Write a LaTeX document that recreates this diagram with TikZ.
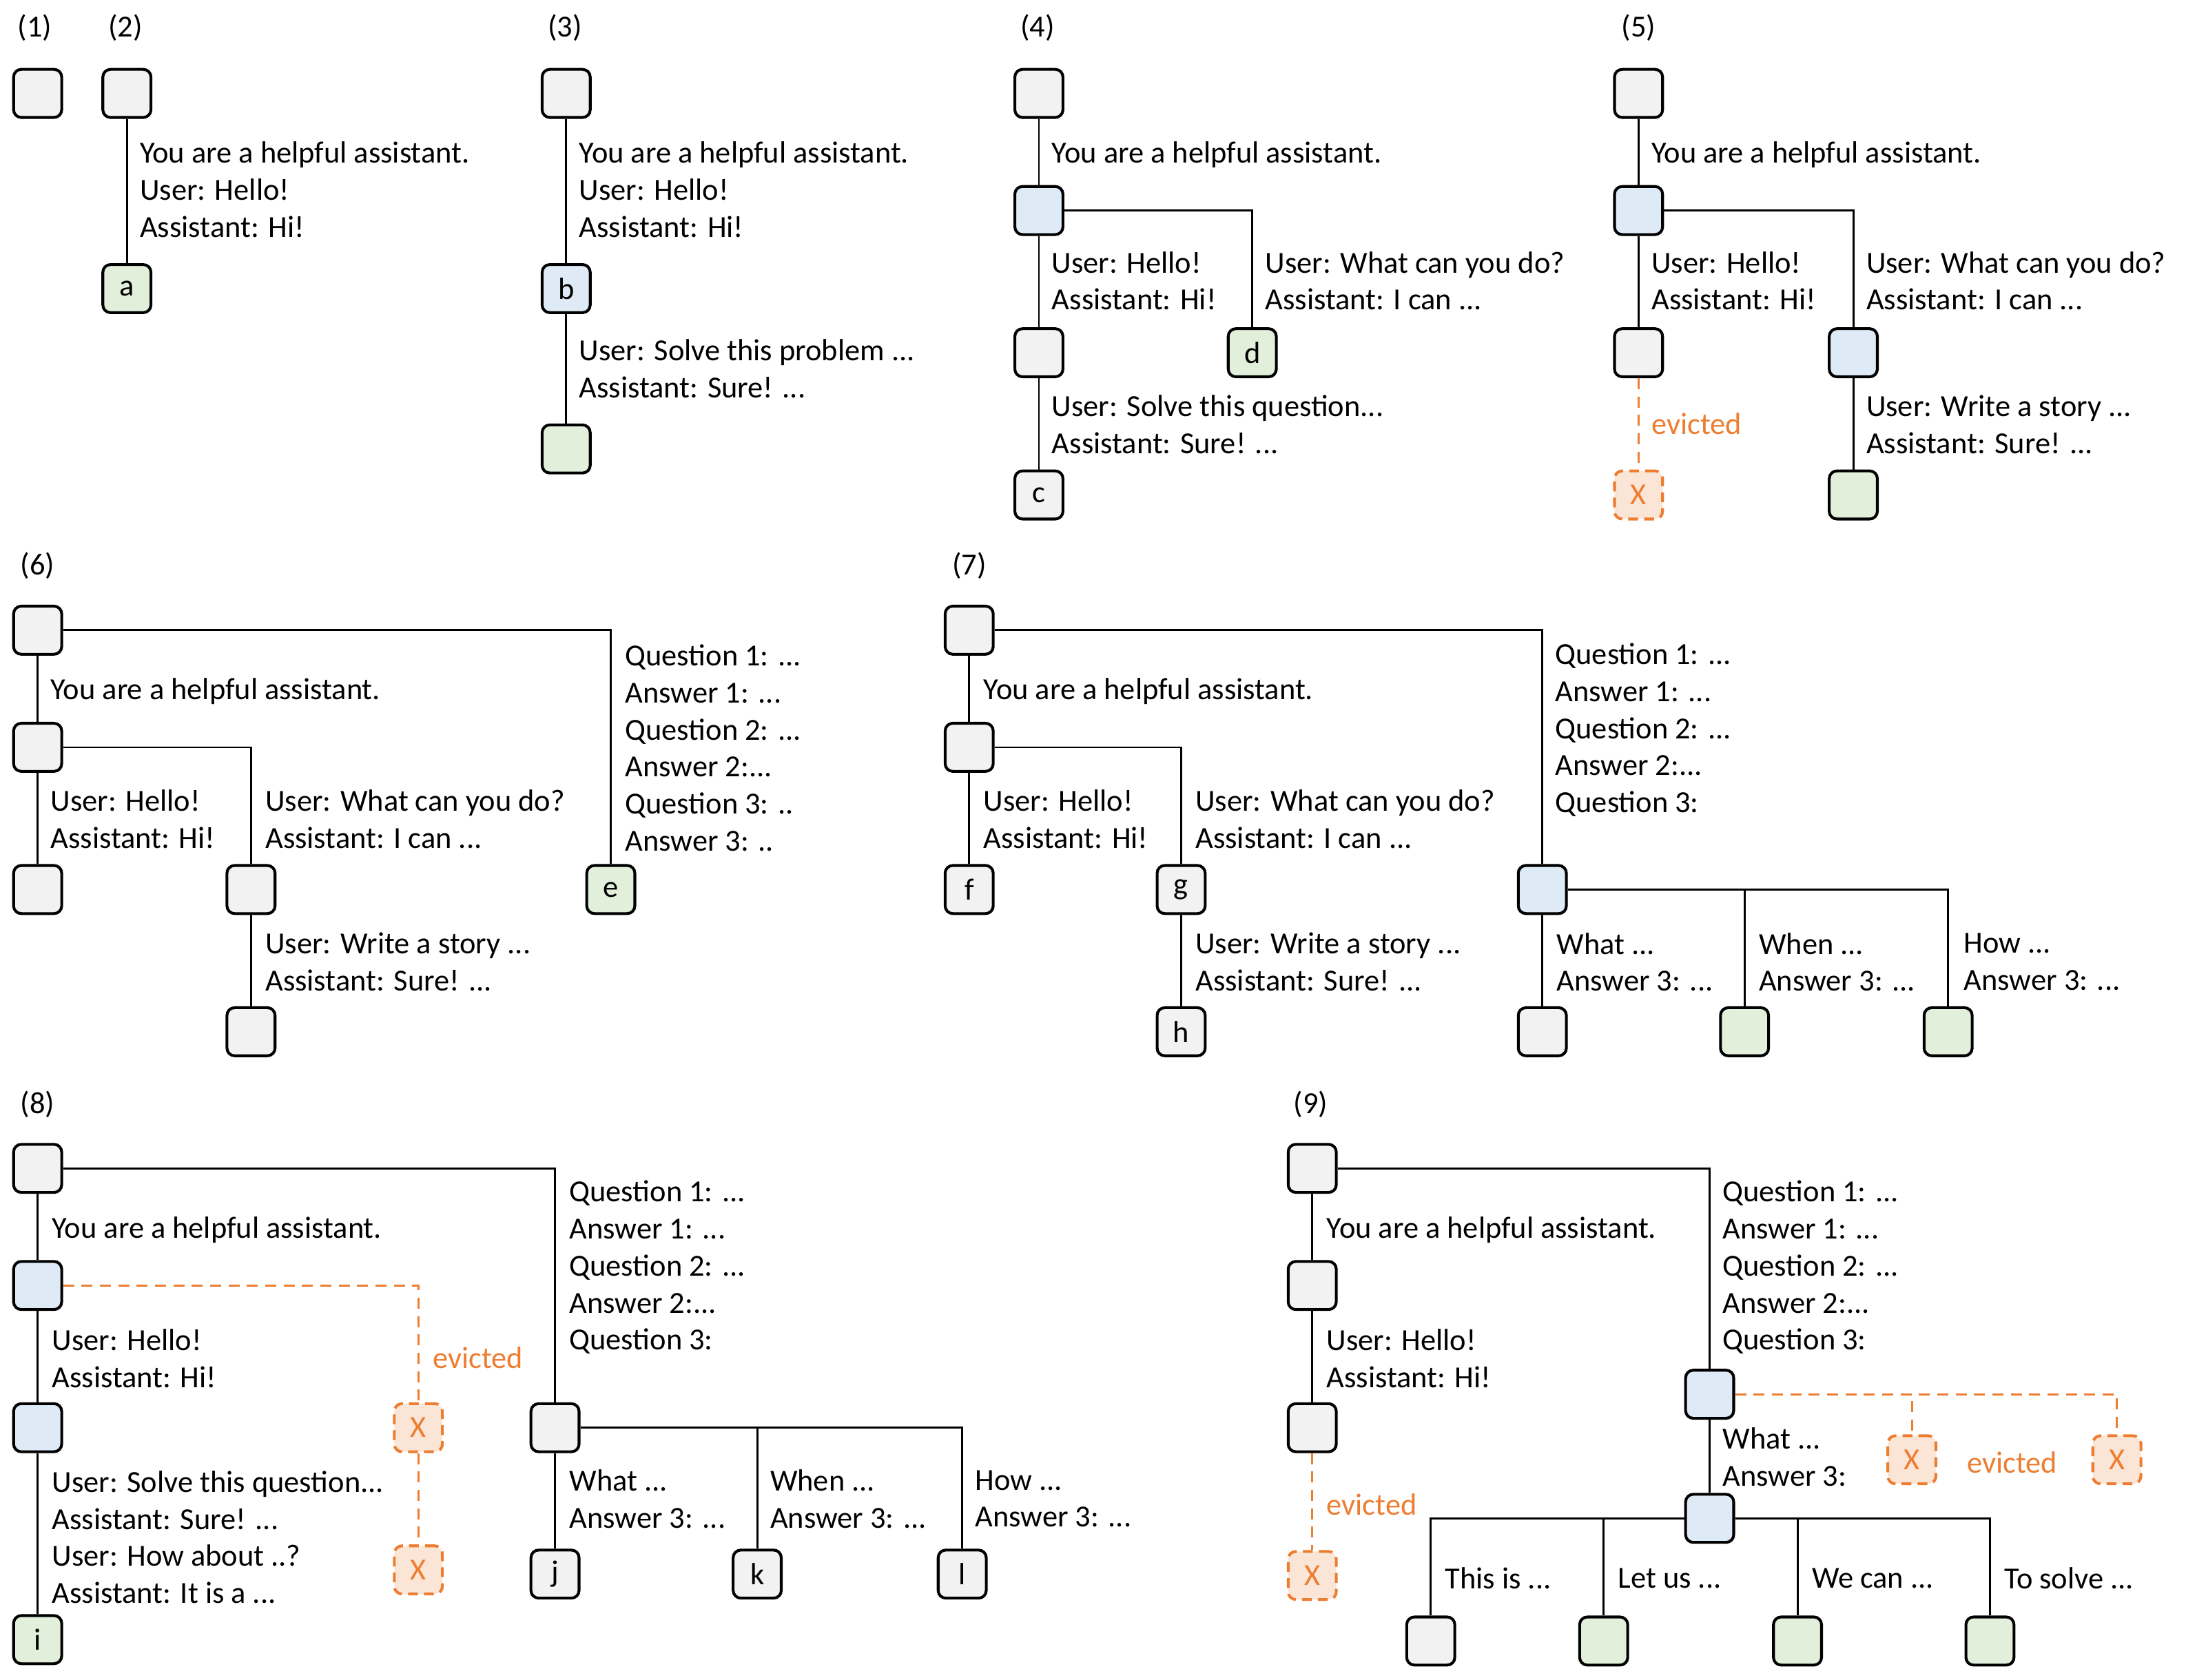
\documentclass[tikz,border=0pt]{standalone}
\usepackage{fontspec}
\setmainfont{Carlito}
\usepackage{xcolor}
\usepackage{tikz}
\definecolor{kvgray}{HTML}{F2F2F2}
\definecolor{kvblue}{HTML}{DEEBF7}
\definecolor{kvgreen}{HTML}{E2EFDA}
\definecolor{evorange}{HTML}{ED7D31}
\definecolor{evfill}{HTML}{FBE5D6}
\tikzset{
  kv/.style={draw=black, line width=1.15pt, rounded corners=0.11cm,
    minimum size=0.69cm, inner sep=0pt, fill=kvgray},
  kvb/.style={kv, fill=kvblue},
  kvg/.style={kv, fill=kvgreen},
  kvx/.style={kv, draw=evorange, dash pattern=on 4pt off 2.5pt,
    fill=evfill, text=evorange},
  txt/.style={anchor=west, align=left, inner sep=0pt},
  evtxt/.style={txt, text=evorange},
  lbl/.style={inner sep=0pt},
  edge/.style={line width=0.8pt},
  evict/.style={draw=evorange, line width=0.8pt, dash pattern=on 4.5pt off 3pt},
}
\begin{document}
\begin{tikzpicture}[x=0.02cm, y=-0.02cm, font=\fontsize{12.5}{15.1}\selectfont]
        \useasboundingbox (0,0) rectangle (1567.6,1204.5);
        % (1)
        \node[lbl] (t1) at (25,20) {(1)};
        \node[kv] (p1r) at (27,67) {};
        % (2)
        \node[lbl] (t2) at (90,20) {(2)};
        \node[kv] (p2r) at (91,67) {};
        \node[kvg] (p2a) at (91,207) {a};
        \draw[edge] (p2r) -- (p2a);
        \node[txt] (p2s) at (100,136) {You are a helpful assistant.\\User: Hello!\\Assistant: Hi!};
        % (3)
        \node[lbl] (t3) at (405,20) {(3)};
        \node[kv] (p3r) at (406,67) {};
        \node[kvb] (p3b) at (406,207) {b};
        \node[kvg] (p3g) at (406,322) {};
        \draw[edge] (p3r) -- (p3b);
        \draw[edge] (p3b) -- (p3g);
        \node[txt] (p3s) at (415,136) {You are a helpful assistant.\\User: Hello!\\Assistant: Hi!};
        \node[txt] (p3p) at (415,264.5) {User: Solve this problem ...\\Assistant: Sure! ...};
        % (4)
        \node[lbl] (t4) at (744,20) {(4)};
        \node[kv] (p4r) at (745,67) {};
        \node[kvb] (p4b) at (745,151) {};
        \node[kv] (p4m) at (745,253) {};
        \node[kv] (p4c) at (745,355) {c};
        \node[kvg] (p4d) at (898,253) {d};
        \draw[edge] (p4r) -- (p4b);
        \draw[edge] (p4b) -- (p4m);
        \draw[edge] (p4m) -- (p4c);
        \draw[edge] (p4b.east) -| (p4d.north);
        \node[txt] (p4s) at (754,111) {You are a helpful assistant.};
        \node[txt] (p4h) at (754,201.5) {User: Hello!\\Assistant: Hi!};
        \node[txt] (p4w) at (907,201.5) {User: What can you do?\\Assistant: I can ...};
        \node[txt] (p4q) at (754,304.5) {User: Solve this question...\\Assistant: Sure! ...};
        % (5)
        \node[lbl] (t5) at (1175,20) {(5)};
        \node[kv] (p5r) at (1175,67) {};
        \node[kvb] (p5b) at (1175,151) {};
        \node[kv] (p5m) at (1175,253) {};
        \node[kvx] (p5x) at (1175,355) {X};
        \node[kvb] (p5n) at (1329,253) {};
        \node[kvg] (p5g) at (1329,355) {};
        \draw[edge] (p5r) -- (p5b);
        \draw[edge] (p5b) -- (p5m);
        \draw[evict] (p5m) -- (p5x);
        \draw[edge] (p5b.east) -| (p5n.north);
        \draw[edge] (p5n) -- (p5g);
        \node[txt] (p5s) at (1184,111) {You are a helpful assistant.};
        \node[txt] (p5h) at (1184,201.5) {User: Hello!\\Assistant: Hi!};
        \node[txt] (p5w) at (1338,201.5) {User: What can you do?\\Assistant: I can ...};
        \node[evtxt] (p5e) at (1184,304) {evicted};
        \node[txt] (p5t) at (1338,304.5) {User: Write a story ...\\Assistant: Sure! ...};
        % (6)
        \node[lbl] (t6) at (27,406) {(6)};
        \node[kv] (p6r) at (27,452) {};
        \node[kv] (p6m) at (27,536) {};
        \node[kv] (p6f) at (27,638) {};
        \node[kv] (p6s) at (180,638) {};
        \node[kv] (p6w) at (180,740) {};
        \node[kvg] (p6e) at (438,638) {e};
        \draw[edge] (p6r) -- (p6m);
        \draw[edge] (p6m) -- (p6f);
        \draw[edge] (p6m.east) -| (p6s.north);
        \draw[edge] (p6s) -- (p6w);
        \draw[edge] (p6r.east) -| (p6e.north);
        \node[txt] (p6y) at (36,496) {You are a helpful assistant.};
        \node[txt] (p6h) at (36,587.5) {User: Hello!\\Assistant: Hi!};
        \node[txt] (p6c) at (190,587.5) {User: What can you do?\\Assistant: I can ...};
        \node[txt] (p6t) at (190,690) {User: Write a story ...\\Assistant: Sure! ...};
        \node[txt] (p6q) at (448,536.5) {Question 1: ...\\Answer 1: ...\\Question 2: ...\\Answer 2:...\\Question 3: ..\\Answer 3: ..};
        % (7)
        \node[lbl] (t7) at (695,406) {(7)};
        \node[kv] (p7r) at (695,452) {};
        \node[kv] (p7m) at (695,536) {};
        \node[kv] (p7f) at (695,638) {f};
        \node[kv] (p7g) at (847,638) {g};
        \node[kv] (p7h) at (847,740) {h};
        \node[kvb] (p7q) at (1106,638) {};
        \node[kv] (p7a) at (1106,740) {};
        \node[kvg] (p7b) at (1251,740) {};
        \node[kvg] (p7c) at (1397,740) {};
        \draw[edge] (p7r) -- (p7m);
        \draw[edge] (p7m) -- (p7f);
        \draw[edge] (p7m.east) -| (p7g.north);
        \draw[edge] (p7g) -- (p7h);
        \draw[edge] (p7r.east) -| (p7q.north);
        \draw[edge] (p7q) -- (p7a);
        \draw[edge] (p7q.east) -| (p7b.north);
        \draw[edge] (p7q.east) -| (p7c.north);
        \node[txt] (p7y) at (705,496) {You are a helpful assistant.};
        \node[txt] (p7h1) at (705,587.5) {User: Hello!\\Assistant: Hi!};
        \node[txt] (p7c1) at (857,587.5) {User: What can you do?\\Assistant: I can ...};
        \node[txt] (p7t) at (857,690) {User: Write a story ...\\Assistant: Sure! ...};
        \node[txt] (p7qa) at (1115,523.5) {Question 1: ...\\Answer 1: ...\\Question 2: ...\\Answer 2:...\\Question 3:};
        \node[txt] (p7wa) at (1116,690) {What ...\\Answer 3: ...};
        \node[txt] (p7wb) at (1261,690) {When ...\\Answer 3: ...};
        \node[txt] (p7wc) at (1408,690) {How ...\\Answer 3: ...};
        % (8)
        \node[lbl] (t8) at (27,792) {(8)};
        \node[kv] (p8r) at (27,838) {};
        \node[kvb] (p8b) at (27,922) {};
        \node[kvb] (p8c) at (27,1024) {};
        \node[kvg] (p8i) at (27,1176) {i};
        \node[kvx] (p8x) at (300,1024) {X};
        \node[kvx] (p8z) at (300,1126) {X};
        \node[kv] (p8q) at (398,1024) {};
        \node[kv] (p8j) at (398,1129) {j};
        \node[kv] (p8k) at (543,1129) {k};
        \node[kv] (p8l) at (690,1129) {l};
        \draw[edge] (p8r) -- (p8b);
        \draw[edge] (p8b) -- (p8c);
        \draw[edge] (p8c) -- (p8i);
        \draw[evict] (p8b.east) -| (p8x.north);
        \draw[evict] (p8x) -- (p8z);
        \draw[edge] (p8r.east) -| (p8q.north);
        \draw[edge] (p8q) -- (p8j);
        \draw[edge] (p8q.east) -| (p8k.north);
        \draw[edge] (p8q.east) -| (p8l.north);
        \node[txt] (p8y) at (37,882) {You are a helpful assistant.};
        \node[txt] (p8h) at (37,974.5) {User: Hello!\\Assistant: Hi!};
        \node[txt] (p8s) at (37,1102.5) {User: Solve this question...\\Assistant: Sure! ...\\User: How about ..?\\Assistant: It is a ...};
        \node[evtxt] (p8e) at (310,974) {evicted};
        \node[txt] (p8qa) at (408,909) {Question 1: ...\\Answer 1: ...\\Question 2: ...\\Answer 2:...\\Question 3:};
        \node[txt] (p8wa) at (408,1075) {What ...\\Answer 3: ...};
        \node[txt] (p8wb) at (552,1075) {When ...\\Answer 3: ...};
        \node[txt] (p8wc) at (699,1075) {How ...\\Answer 3: ...};
        % (9)
        \node[lbl] (t9) at (940,792) {(9)};
        \node[kv] (p9r) at (941,838) {};
        \node[kv] (p9m) at (941,922) {};
        \node[kv] (p9n) at (941,1024) {};
        \node[kvx] (p9x) at (941,1130) {X};
        \node[kvb] (p9q) at (1226,1000) {};
        \node[kvx] (p9u) at (1371,1047) {X};
        \node[kvx] (p9v) at (1518,1047) {X};
        \node[kvb] (p9w) at (1226,1089) {};
        \node[kv] (p9a) at (1026,1177) {};
        \node[kvg] (p9b) at (1150,1177) {};
        \node[kvg] (p9c) at (1289,1177) {};
        \node[kvg] (p9d) at (1427,1177) {};
        \draw[edge] (p9r) -- (p9m);
        \draw[edge] (p9m) -- (p9n);
        \draw[evict] (p9n) -- (p9x);
        \draw[edge] (p9r.east) -| (p9q.north);
        \draw[evict] (p9q.east) -| (p9u.north);
        \draw[evict] (p9q.east) -| (p9v.north);
        \draw[edge] (p9q) -- (p9w);
        \draw[edge] (p9w.west) -| (p9a.north);
        \draw[edge] (p9w.west) -| (p9b.north);
        \draw[edge] (p9w.east) -| (p9c.north);
        \draw[edge] (p9w.east) -| (p9d.north);
        \node[txt] (p9y) at (951,882) {You are a helpful assistant.};
        \node[txt] (p9h) at (951,974.5) {User: Hello!\\Assistant: Hi!};
        \node[evtxt] (p9e) at (951,1079) {evicted};
        \node[txt] (p9qa) at (1235,909) {Question 1: ...\\Answer 1: ...\\Question 2: ...\\Answer 2:...\\Question 3:};
        \node[txt] (p9wa) at (1235,1045) {What ...\\Answer 3:};
        \node[lbl, text=evorange] (p9f) at (1443,1049) {evicted};
        \node[txt] (p9sa) at (1036,1132) {This is ...};
        \node[txt] (p9sb) at (1160,1132) {Let us ...};
        \node[txt] (p9sc) at (1299,1132) {We can ...};
        \node[txt] (p9sd) at (1437,1132) {To solve ...};
\end{tikzpicture}
\end{document}
